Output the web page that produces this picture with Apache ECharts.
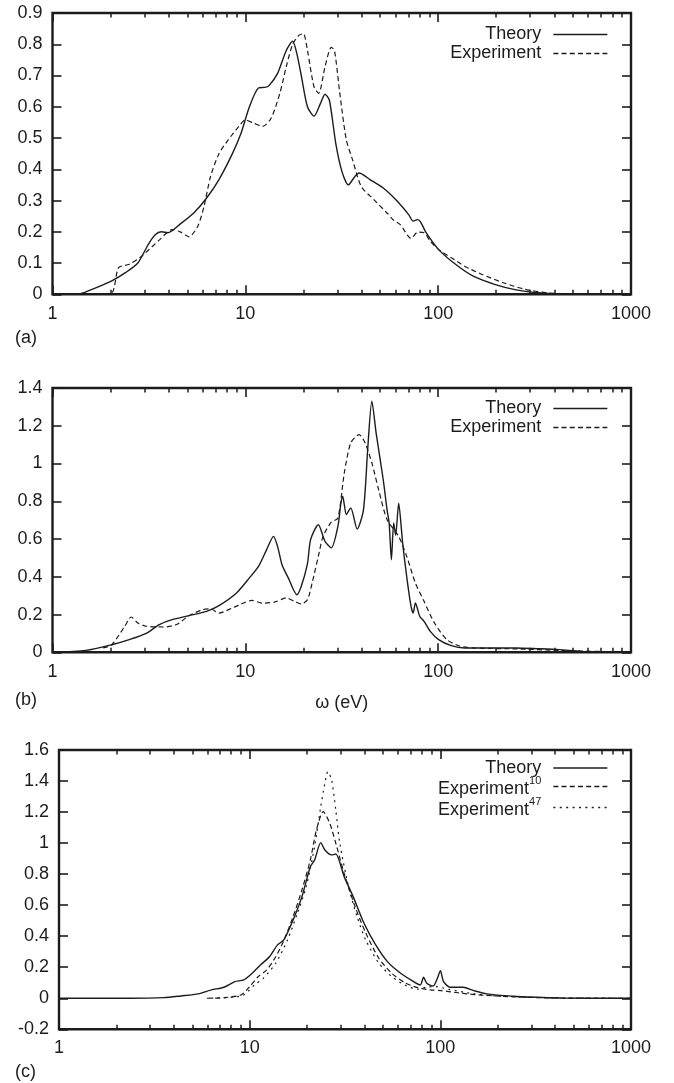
<!DOCTYPE html>
<html>
<head>
<meta charset="utf-8">
<script src="https://cdn.jsdelivr.net/npm/echarts@6/dist/echarts.min.js"></script>
<style>
html,body{margin:0;padding:0;background:#fff;}
#chart{width:674px;height:1083px;}
</style>
</head>
<body>
<div id="chart"></div>
<script>
// ---------- data (omega in eV, value) ----------
const theoryA = [[1.38,0],[1.45,0.005],[1.7,0.022],[2.03,0.043],[2.4,0.07],[2.77,0.10],[3.14,0.16],[3.4,0.19],[3.67,0.20],[3.96,0.197],[4.62,0.226],[5.4,0.26],[6.3,0.308],[7.3,0.367],[8.57,0.45],[9.5,0.515],[10.5,0.60],[11.7,0.66],[12.6,0.662],[13.2,0.666],[14.7,0.707],[16.3,0.78],[17.6,0.81],[18.5,0.77],[19.5,0.70],[21,0.60],[22.7,0.57],[24.5,0.61],[25.9,0.64],[27.3,0.62],[29.5,0.48],[31.8,0.39],[34.2,0.35],[37,0.377],[38.9,0.388],[44.3,0.367],[51.9,0.34],[60.2,0.303],[70.3,0.255],[74.2,0.234],[78.3,0.239],[81,0.232],[86.6,0.197],[100.6,0.143],[123,0.096],[152,0.058],[196,0.032],[254,0.014],[328,0.005],[425,0.001],[495,0]];
const experimentA = [[1.38,0],[1.7,0.002],[2.03,0.005],[2.2,0.085],[2.5,0.096],[2.9,0.122],[3.6,0.175],[4.17,0.207],[4.62,0.199],[5.1,0.184],[5.67,0.218],[6.1,0.28],[6.6,0.377],[7.3,0.45],[8.15,0.494],[9.25,0.537],[10,0.558],[11.1,0.547],[12.3,0.537],[13.6,0.563],[15.1,0.643],[16.3,0.728],[17.6,0.80],[19,0.829],[20,0.834],[21,0.78],[22.7,0.664],[24,0.643],[25.9,0.728],[27.9,0.79],[29,0.78],[30.9,0.643],[33.4,0.494],[36,0.43],[39.9,0.345],[46.4,0.303],[54.3,0.26],[58.8,0.237],[63.6,0.223],[72.3,0.179],[78.3,0.199],[84.5,0.197],[91,0.17],[100.6,0.143],[117,0.117],[137,0.09],[168,0.064],[218,0.037],[282,0.016],[364,0.005],[470,0]];

const theoryB = [[1,0],[1.49,0.01],[2.03,0.04],[2.5,0.067],[3.06,0.10],[3.58,0.147],[4.17,0.173],[5.1,0.194],[6.3,0.217],[7.3,0.247],[9,0.314],[10.5,0.394],[11.7,0.455],[12.9,0.544],[14,0.614],[14.7,0.56],[15.5,0.464],[16.7,0.394],[18.5,0.305],[19.5,0.35],[21,0.47],[21.8,0.597],[23.9,0.676],[25.9,0.588],[27.9,0.553],[30.2,0.667],[31.3,0.79],[32,0.826],[32.6,0.782],[33.4,0.73],[35.2,0.765],[38,0.653],[41,0.756],[43.2,1.09],[45.3,1.33],[47.7,1.16],[51.9,0.914],[54.3,0.756],[55.7,0.685],[57.2,0.49],[58.8,0.685],[60.2,0.62],[62.4,0.79],[65.4,0.58],[68.7,0.40],[72.3,0.244],[74.2,0.208],[76.2,0.261],[80.3,0.19],[84.5,0.164],[91,0.111],[100.6,0.067],[117,0.035],[137,0.023],[196,0.023],[254,0.023],[328,0.019],[425,0.014],[548,0.005],[710,0.002],[1000,0]];
const experimentB = [[1.83,0.023],[2.03,0.04],[2.37,0.138],[2.56,0.187],[2.77,0.155],[3.06,0.138],[3.77,0.134],[4.4,0.147],[5.1,0.194],[6,0.226],[6.6,0.23],[7.3,0.208],[8.57,0.235],[10,0.265],[10.8,0.275],[12.3,0.26],[14.3,0.267],[16.3,0.288],[18,0.27],[19.5,0.256],[21,0.279],[22.2,0.367],[23.9,0.508],[25.3,0.614],[27.9,0.689],[30.2,0.71],[32.6,0.95],[35.2,1.109],[38.9,1.153],[41.8,1.109],[45.3,1.003],[49.1,0.862],[54.3,0.703],[62.4,0.614],[68.7,0.508],[76.2,0.367],[84.5,0.27],[95.7,0.155],[111,0.067],[130,0.032],[152,0.023],[254,0.018],[425,0.01],[710,0.004],[1000,0]];

const theoryC = [[1,0],[2.34,0],[3.55,0.004],[4.37,0.015],[5.38,0.028],[6.3,0.054],[7.34,0.071],[8.36,0.107],[9.3,0.118],[10.3,0.161],[11.4,0.215],[12.7,0.268],[14,0.344],[15.1,0.376],[16.9,0.505],[18.8,0.655],[20.8,0.848],[21.9,0.891],[23.6,1.003],[24.8,0.956],[26.9,0.924],[28.3,0.93],[31.3,0.784],[34.9,0.655],[39.8,0.483],[45.3,0.354],[52.8,0.236],[61.9,0.161],[72.5,0.107],[78.5,0.086],[81.7,0.135],[84.8,0.097],[91.7,0.079],[96.5,0.129],[100.1,0.178],[104,0.107],[112.6,0.071],[131.7,0.071],[149.8,0.049],[175,0.028],[252,0.011],[426,0.002],[1000,0]];
const experiment10C = [[5.97,0],[7.34,0.004],[9,0.021],[10,0.075],[11.1,0.14],[12.3,0.183],[13.7,0.268],[15.1,0.372],[16.9,0.526],[18.8,0.698],[20.8,0.891],[22.4,1.085],[24.3,1.203],[26.3,1.128],[28.3,0.999],[31.3,0.805],[35.7,0.591],[40.7,0.419],[47.6,0.258],[55.6,0.161],[65,0.101],[75.9,0.069],[88.7,0.054],[101,0.049],[121,0.037],[149.8,0.024],[194,0.015],[325,0.004],[709,0],[1000,0]];
const experiment47C = [[6.3,0],[8.1,0.006],[9.3,0.021],[10.6,0.086],[11.8,0.129],[13.7,0.226],[15.8,0.376],[17.8,0.548],[19.8,0.72],[21.9,0.977],[23.6,1.235],[24.8,1.385],[25.7,1.46],[26.9,1.407],[28.3,1.213],[29.7,0.999],[33,0.72],[36.6,0.526],[40.6,0.376],[47.6,0.226],[55.6,0.14],[65,0.086],[75.9,0.058],[84.3,0.071],[94.7,0.075],[110,0.058],[136,0.037],[175,0.019],[252,0.009],[426,0.002],[1000,0]];

const minorTicks = [2,3,4,5,6,7,8,9,20,30,40,50,60,70,80,90,200,300,400,500,600,700,800,900];
const yRanges = [[0,0.9,0.1],[0,1.4,0.2],[-0.2,1.6,0.2]];
const panelLabels = ['(a)','(b)','(c)'];
const legendAB = ['Theory','Experiment'];
const legendC = ['Theory','Experiment^10','Experiment^47'];

// ---------- styling ----------
const FONT = 'Liberation Sans, Arial, Helvetica, sans-serif';
const INK = '#1c1c1c';
const grids = [
  {left:52.5, right:43, top:13, height:281.3},
  {left:52.5, right:43, top:388, height:264.3},
  {left:59, right:43, top:750, height:279.3}
];

const xAxes = [], yAxes = [];
grids.forEach((g, gi) => {
  const base = {type:'log', logBase:10, gridIndex:gi, min:1, max:1000,
    axisLine:{show:false, onZero:false}, splitLine:{show:false}};
  xAxes.push(Object.assign({}, base, {position:'bottom',
    axisTick:{inside:true, length:9, lineStyle:{color:INK, width:1.6}},
    axisLabel:{margin: gi===2 ? 10 : 11, fontSize:18, fontFamily:FONT, color:INK,
      formatter: v => String(Math.round(v))},
    name: gi===1 ? 'ω (eV)' : '', nameLocation:'middle', nameGap:42,
    nameTextStyle:{fontSize:18, fontFamily:FONT, color:INK}}));
  xAxes.push(Object.assign({}, base, {position:'bottom',
    axisTick:{inside:true, length:4.5, customValues:minorTicks, lineStyle:{color:INK, width:1.5}},
    axisLabel:{show:false}}));
  xAxes.push(Object.assign({}, base, {position:'top',
    axisTick:{inside:true, length:9, lineStyle:{color:INK, width:1.6}},
    axisLabel:{show:false}}));
  xAxes.push(Object.assign({}, base, {position:'top',
    axisTick:{inside:true, length:4.5, customValues:minorTicks, lineStyle:{color:INK, width:1.5}},
    axisLabel:{show:false}}));
  const r = yRanges[gi];
  const ybase = {type:'value', gridIndex:gi, min:r[0], max:r[1], interval:r[2],
    axisLine:{show:false, onZero:false}, splitLine:{show:false},
    axisTick:{inside:true, length:9, lineStyle:{color:INK, width:1.6}}};
  yAxes.push(Object.assign({}, ybase, {position:'left',
    axisLabel:{margin:10, fontSize:18, fontFamily:FONT, color:INK}}));
  yAxes.push(Object.assign({}, ybase, {position:'right', axisLabel:{show:false}}));
});

function line(name, data, gi, dash, width) {
  return {type:'line', name:name, data:data, xAxisIndex:gi*4, yAxisIndex:gi*2,
    symbol:'none', smooth:0.25, silent:true, animation:false,
    itemStyle:{color:INK},
    lineStyle:{color:INK, width:width, type:dash}};
}
const DASH = [5,3.2];
const DOT = [2,4.4];
const series = [
  line('Theory', theoryA, 0, 'solid', 1.4),
  line('Experiment', experimentA, 0, DASH, 1.2),
  line('Theory', theoryB, 1, 'solid', 1.4),
  line('Experiment', experimentB, 1, DASH, 1.2),
  line('Theory', theoryC, 2, 'solid', 1.4),
  line('Experiment^10', experiment10C, 2, DASH, 1.2),
  line('Experiment^47', experiment47C, 2, DOT, 1.2)
];

function legendFor(names, top, rich) {
  const l = {data:names, orient:'vertical', align:'right', right:61, top:top,
    itemWidth:54, itemHeight:14, itemGap: rich ? -2 : 1, selectedMode:false,
    lineStyle:{width:1.3},
    itemStyle:{color:'rgba(0,0,0,0)', borderWidth:0, opacity:0},
    textStyle:{fontSize:18, fontFamily:FONT, color:INK, padding:[0,7,0,0]}};
  if (rich) {
    l.formatter = function (n) {
      const p = n.split('^');
      return '{m|' + p[0] + '}' + (p[1] ? '{s|' + p[1] + '}' : '');
    };
    l.textStyle.rich = {
      m:{fontSize:18, lineHeight:18, fontFamily:FONT, color:INK, verticalAlign:'bottom'},
      s:{fontSize:11, fontFamily:FONT, color:INK, verticalAlign:'top', padding:[0,0,12,0]}
    };
  }
  return l;
}

const graphics = panelLabels.map((t, i) => ({
  type:'text', left:15, top:[329, 691, 1063][i],
  style:{text:t, font:'18px ' + FONT, fill:INK}
}));

const chart = echarts.init(document.getElementById('chart'), null, {renderer:'canvas'});
chart.setOption({
  animation:false,
  backgroundColor:'#fff',
  grid: grids.map(g => Object.assign({show:true, borderColor:INK, borderWidth:2.4,
    backgroundColor:'transparent', containLabel:false, outerBoundsMode:'none'}, g)),
  xAxis: xAxes,
  yAxis: yAxes,
  legend: [legendFor(legendAB, 20.5), legendFor(legendAB, 394.5), legendFor(legendC, 754, true)],
  graphic: graphics,
  series: series
});
</script>
</body>
</html>
